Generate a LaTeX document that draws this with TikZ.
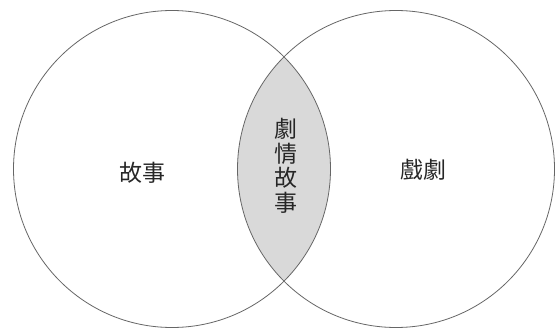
\documentclass[tikz,border=0pt]{standalone}
\usepackage{fontspec}
\newfontfamily\cjk{Noto Sans CJK TC}
\begin{document}
\begin{tikzpicture}[x=1pt,y=1pt,
  ring/.style={draw=black!60,line width=0.8pt},
  lbl/.style={font=\cjk\fontsize{23}{24.5}\selectfont,text=black!85,inner sep=0pt}]
\useasboundingbox[fill=white] (0,0) rectangle (557,330);
\coordinate (cl) at (172,161);
\coordinate (cr) at (396,161);
\begin{scope}
  \clip (cl) circle (158.5);
  \fill[black!15] (cr) circle (158.5);
\end{scope}
\draw[ring] (cl) circle (158.5);
\draw[ring] (cr) circle (158.5);
\node[lbl] (a) at (142.5,157.5) {故事};
\node[lbl] (b) at (423,160.5) {戲劇};
\node[lbl,align=center] (c) at (286,164) {劇\\情\\故\\事};
\end{tikzpicture}
\end{document}
